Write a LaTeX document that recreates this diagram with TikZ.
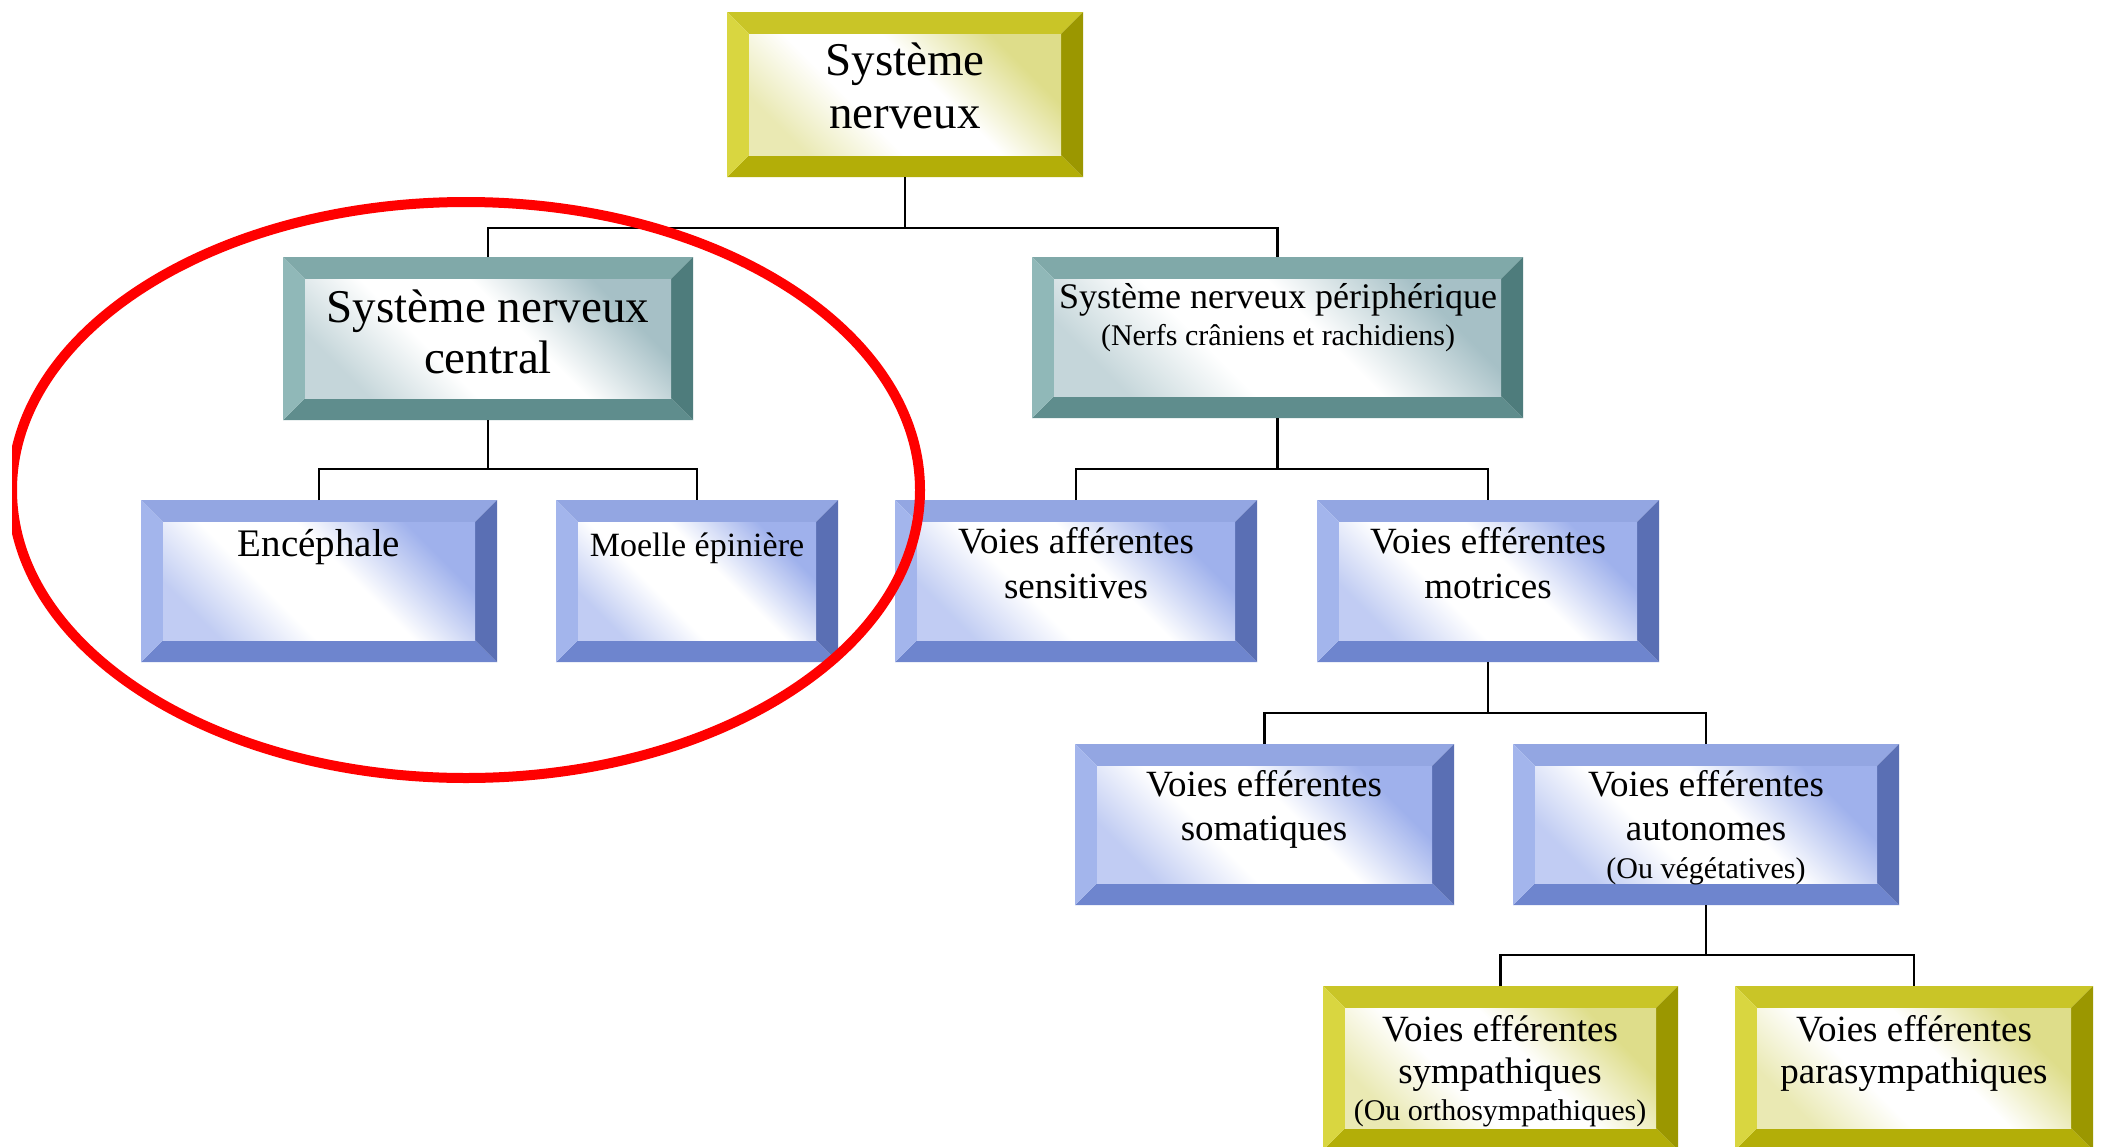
\documentclass[tikz,border=0pt]{standalone}
\usepackage{fontspec}
\setmainfont{Liberation Serif}
\usetikzlibrary{fit}

% bevel palettes: T top, L left, R right, B bottom, I inner tint
\definecolor{olvT}{HTML}{C9C527}
\definecolor{olvL}{HTML}{D9D640}
\definecolor{olvR}{HTML}{9B9700}
\definecolor{olvB}{HTML}{B3AE08}
\definecolor{olvI}{HTML}{DEDD8A}
\definecolor{tealT}{HTML}{80A9A9}
\definecolor{tealL}{HTML}{90B8B8}
\definecolor{tealR}{HTML}{4E7C7C}
\definecolor{tealB}{HTML}{5F8D8D}
\definecolor{tealI}{HTML}{A6C0C6}
\definecolor{bluT}{HTML}{93A6E2}
\definecolor{bluL}{HTML}{A3B5EC}
\definecolor{bluR}{HTML}{5A6FB4}
\definecolor{bluB}{HTML}{6E85CE}
\definecolor{bluI}{HTML}{9FB1EC}

% soft inner fills with a broad white band across the face
\pgfdeclareverticalshading{olvshade}{100bp}{color(0bp)=(olvI); color(26bp)=(olvI); color(44bp)=(white); color(60bp)=(white); color(76bp)=(olvI!65!white); color(100bp)=(olvI!65!white)}
\pgfdeclareverticalshading{tealshade}{100bp}{color(0bp)=(tealI); color(26bp)=(tealI); color(44bp)=(white); color(60bp)=(white); color(76bp)=(tealI!65!white); color(100bp)=(tealI!65!white)}
\pgfdeclareverticalshading{blushade}{100bp}{color(0bp)=(bluI); color(26bp)=(bluI); color(44bp)=(white); color(60bp)=(white); color(76bp)=(bluI!65!white); color(100bp)=(bluI!65!white)}

\tikzset{
  wire/.style={draw=black, line width=2.2pt},
  lbl/.style={anchor=base, inner sep=0pt, text=black},
  fbig/.style={font=\fontsize{47}{52}\selectfont},
  fmid/.style={font=\fontsize{37}{42}\selectfont},
  fsub/.style={font=\fontsize{30}{34}\selectfont},
  boxnode/.style={inner sep=0pt, outer sep=0pt},
}

\newcommand{\bevw}{22}
% #1 name, #2 x1, #3 y1, #4 x2, #5 y2, #6 palette
\newcommand{\bevelbox}[6]{%
  \fill[#6T] (#2,#3) -- (#4,#3) -- (#4-\bevw,#3+\bevw) -- (#2+\bevw,#3+\bevw) -- cycle;
  \fill[#6B] (#2,#5) -- (#4,#5) -- (#4-\bevw,#5-\bevw) -- (#2+\bevw,#5-\bevw) -- cycle;
  \fill[#6L] (#2,#3) -- (#2+\bevw,#3+\bevw) -- (#2+\bevw,#5-\bevw) -- (#2,#5) -- cycle;
  \fill[#6R] (#4,#3) -- (#4-\bevw,#3+\bevw) -- (#4-\bevw,#5-\bevw) -- (#4,#5) -- cycle;
  \shade[shading=#6shade, shading angle=135]
    (#2+\bevw,#3+\bevw) rectangle (#4-\bevw,#5-\bevw);
  \node[boxnode, fit={(#2,#3) (#4,#5)}] (#1) {};
}

\begin{document}
\begin{tikzpicture}[x=1pt, y=-1pt]
\useasboundingbox (0,0) rectangle (2101,1146);
\fill[white] (0,0) rectangle (2101,1146);

% boxes
\bevelbox{top}{727}{12}{1083}{177}{olv}
\bevelbox{snc}{283}{257}{693}{420}{teal}
\bevelbox{snp}{1032}{257}{1523}{418}{teal}
\bevelbox{enc}{141}{500}{497}{662}{blu}
\bevelbox{moe}{556}{500}{838}{662}{blu}
\bevelbox{aff}{895}{500}{1257}{662}{blu}
\bevelbox{mot}{1317}{500}{1659}{662}{blu}
\bevelbox{som}{1075}{744}{1454}{905}{blu}
\bevelbox{aut}{1513}{744}{1899}{905}{blu}
\bevelbox{sym}{1323}{986}{1678}{1150}{olv}
\bevelbox{par}{1735}{986}{2093}{1150}{olv}

% labels
\node[lbl, fbig] (top-a) at (905,75) {Système};
\node[lbl, fbig] (top-b) at (905,128) {nerveux};
\node[lbl, fbig] (snc-a) at (488,322) {Système nerveux};
\node[lbl, fbig] (snc-b) at (488,373) {central};
\node[lbl, font=\fontsize{36}{40}\selectfont] (snp-a) at (1278,308) {Système nerveux périphérique};
\node[lbl, fsub] (snp-b) at (1278,345) {(Nerfs crâniens et rachidiens)};
\node[lbl, font=\fontsize{39}{44}\selectfont] (enc-a) at (319,556) {Encéphale};
\node[lbl, font=\fontsize{34}{40}\selectfont] (moe-a) at (697,556) {Moelle épinière};
\node[lbl, fmid] (aff-a) at (1076,553) {Voies afférentes};
\node[lbl, fmid] (aff-b) at (1076,598) {sensitives};
\node[lbl, fmid] (mot-a) at (1488,553) {Voies efférentes};
\node[lbl, fmid] (mot-b) at (1488,598) {motrices};
\node[lbl, fmid] (som-a) at (1264,796) {Voies efférentes};
\node[lbl, fmid] (som-b) at (1264,840) {somatiques};
\node[lbl, fmid] (aut-a) at (1706,796) {Voies efférentes};
\node[lbl, fmid] (aut-b) at (1706,840) {autonomes};
\node[lbl, fsub] (aut-c) at (1706,878) {(Ou végétatives)};
\node[lbl, fmid] (sym-a) at (1500,1041) {Voies efférentes};
\node[lbl, fmid] (sym-b) at (1500,1083) {sympathiques};
\node[lbl, fsub] (sym-c) at (1500,1120) {(Ou orthosympathiques)};
\node[lbl, fmid] (par-a) at (1914,1041) {Voies efférentes};
\node[lbl, fmid] (par-b) at (1914,1083) {parasympathiques};

% bus levels of the tree
\coordinate (busA) at (0,228);
\coordinate (busB) at (0,469);
\coordinate (busC) at (0,713);
\coordinate (busD) at (0,955);

% connectors
\draw[wire] (top.south) -- (top.south |- busA);
\draw[wire] (snc.north) |- (top.south |- busA) -| (snp.north);
\draw[wire] (snc.south) -- (snc.south |- busB);
\draw[wire] (enc.north) |- (snc.south |- busB) -| (moe.north);
\draw[wire] (snp.south) -- (snp.south |- busB);
\draw[wire] (aff.north) |- (snp.south |- busB) -| (mot.north);
\draw[wire] (mot.south) -- (mot.south |- busC);
\draw[wire] (som.north) |- (mot.south |- busC) -| (aut.north);
\draw[wire] (aut.south) -- (aut.south |- busD);
\draw[wire] (sym.north) |- (aut.south |- busD) -| (par.north);

% red highlight round the central nervous system
\begin{scope}
  \clip (12,0) rectangle (2101,1146);
  \draw[red, line width=10pt] (466,490) ellipse [x radius=454, y radius=288];
\end{scope}
\end{tikzpicture}
\end{document}
